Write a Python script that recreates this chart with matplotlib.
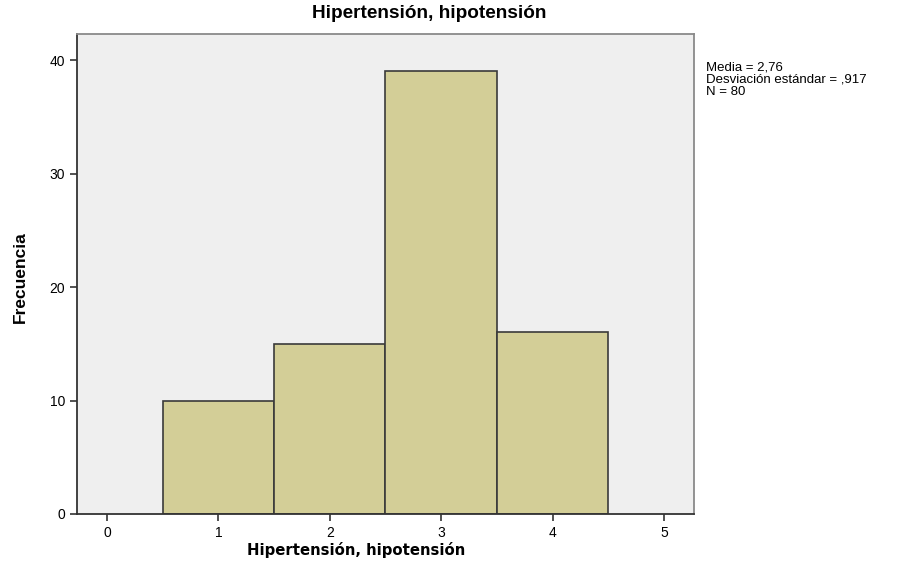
import matplotlib.pyplot as plt

# histogram data
categorias = [1, 2, 3, 4]
frecuencias = [10, 15, 39, 16]
xticks = [0, 1, 2, 3, 4, 5]
yticks = [0, 10, 20, 30, 40]

plt.rcParams['font.family'] = ['Liberation Sans', 'DejaVu Sans']

fig = plt.figure(figsize=(9.08, 5.68), dpi=100)
ax = fig.add_axes([0.0848, 0.0951, 0.6795, 0.845])
ax.set_facecolor('#efefef')

ax.bar(categorias, frecuencias, width=1.0, color='#d3ce97',
       edgecolor='#3a3a3a', linewidth=1.2)

ax.set_xlim(-0.27, 5.27)
ax.set_ylim(0, 42.3)
ax.set_xticks(xticks)
ax.set_yticks(yticks)
ax.tick_params(axis='both', direction='out', length=5, width=1.2,
               color='#333333', labelsize=10)

for side in ['left', 'bottom']:
    ax.spines[side].set_color('#333333')
    ax.spines[side].set_linewidth(1.3)
for side in ['top', 'right']:
    ax.spines[side].set_color('#8a8a8a')
    ax.spines[side].set_linewidth(1.3)

fig.text(0.4725, 0.977, 'Hipertensión, hipotensión', ha='center', va='center',
         fontsize=13.7, fontweight='bold')
fig.text(0.3926, 0.031, 'Hipertensión, hipotensión', ha='center', va='center',
         fontsize=10.7, fontweight='bold', family=['DejaVu Sans'])
fig.text(0.022, 0.512, 'Frecuencia', ha='center', va='center', rotation=90,
         fontsize=12.5, fontweight='bold',
         family=['Liberation Sans Narrow', 'Liberation Sans'])

fig.text(0.777, 0.891, 'Media = 2,76\nDesviación estándar = ,917\nN = 80',
         ha='left', va='top', fontsize=9.5, linespacing=1.0)

fig.savefig('out.png', dpi=100)
